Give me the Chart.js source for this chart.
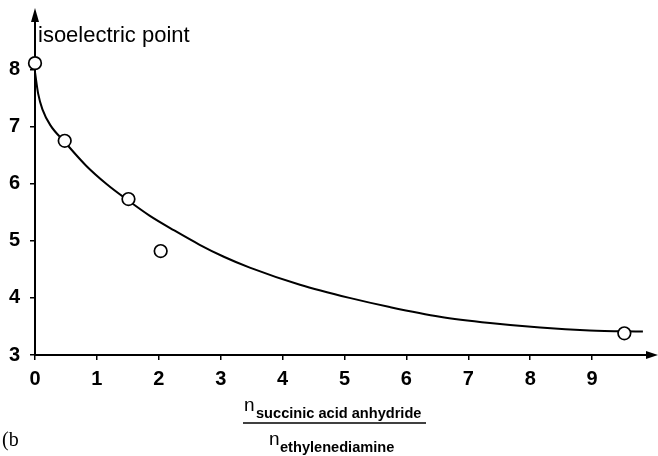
<!DOCTYPE html>
<html>
<head>
<meta charset="utf-8">
<script src="https://cdn.jsdelivr.net/npm/chart.js@4/dist/chart.umd.min.js"></script>
<style>
  html, body { margin: 0; padding: 0; background: #fff; }
  #wrap { width: 658px; height: 456px; position: relative; }
</style>
</head>
<body>
<div id="wrap"><canvas id="myChart"></canvas></div>
<script>
// measured points
const ratio = [0, 0.48, 1.51, 2.03, 9.52];
const pI = [8.11, 6.75, 5.73, 4.82, 3.38];

// fitted curve
const curveX = [0, 0.05, 0.12, 0.25, 0.48, 0.83, 1.16, 1.5, 1.85, 2.25, 2.66, 3.05, 3.47, 4.28, 5.08, 5.73, 6.54, 7.35, 8.16, 8.96, 9.82];
const curveY = [7.95, 7.58, 7.3, 7.02, 6.73, 6.31, 5.99, 5.71, 5.44, 5.18, 4.93, 4.72, 4.53, 4.23, 4.0, 3.84, 3.67, 3.56, 3.48, 3.43, 3.41];

const xTicks = [0, 1, 2, 3, 4, 5, 6, 7, 8, 9];
const yTicks = [3, 4, 5, 6, 7, 8];

const yTitle = 'isoelectric point';
const numerator = 'succinic acid anhydride';
const denominator = 'ethylenediamine';
const panel = '(b';

const tickFont = { family: 'Liberation Sans, Arial, sans-serif', size: 20, weight: 'bold' };

// axis arrows and the free text
const decorations = {
    id: 'decorations',
    afterDraw(chart) {
        const ctx = chart.ctx;
        const area = chart.chartArea;
        const left = area.left;
        const bottom = area.bottom;
        ctx.save();
        ctx.fillStyle = '#000';
        ctx.strokeStyle = '#000';

        // y arrow
        ctx.beginPath();
        ctx.moveTo(left, 8);
        ctx.lineTo(left - 4, area.top);
        ctx.lineTo(left + 4, area.top);
        ctx.closePath();
        ctx.fill();

        // x arrow
        ctx.beginPath();
        ctx.moveTo(658, bottom);
        ctx.lineTo(area.right, bottom - 4);
        ctx.lineTo(area.right, bottom + 4);
        ctx.closePath();
        ctx.fill();

        ctx.textBaseline = 'alphabetic';
        ctx.textAlign = 'left';
        ctx.font = '22px Liberation Sans, Arial, sans-serif';
        ctx.fillText(yTitle, 38, 42);

        // fraction under the x axis
        ctx.font = '19px Liberation Sans, Arial, sans-serif';
        ctx.fillText('n', 244, 411);
        ctx.font = 'bold 14.6px Liberation Sans, Arial, sans-serif';
        ctx.fillText(numerator, 256, 418);
        ctx.lineWidth = 1.5;
        ctx.beginPath();
        ctx.moveTo(243, 423);
        ctx.lineTo(426, 423);
        ctx.stroke();
        ctx.font = '19px Liberation Sans, Arial, sans-serif';
        ctx.fillText('n', 269, 445);
        ctx.font = 'bold 14.6px Liberation Sans, Arial, sans-serif';
        ctx.fillText(denominator, 280, 452);

        ctx.font = '20px Liberation Serif, Times New Roman, serif';
        ctx.fillText(panel, 2, 446);
        ctx.restore();
    }
};

const ctx = document.getElementById('myChart').getContext('2d');
const myChart = new Chart(ctx, {
    type: 'scatter',
    data: {
        datasets: [{
            data: ratio.map((x, i) => ({ x: x, y: pI[i] })),
            pointRadius: 6.3,
            pointBackgroundColor: '#fff',
            pointBorderColor: '#000',
            pointBorderWidth: 1.7,
            showLine: false,
            clip: false,
            order: 0
        }, {
            data: curveX.map((x, i) => ({ x: x, y: curveY[i] })),
            showLine: true,
            pointRadius: 0,
            borderColor: '#000',
            borderWidth: 2,
            cubicInterpolationMode: 'monotone',
            clip: false,
            order: 1
        }]
    },
    options: {
        responsive: true,
        maintainAspectRatio: false,
        animation: false,
        layout: { padding: { left: 0, right: 12, top: 22, bottom: 0 } },
        plugins: {
            legend: { display: false },
            tooltip: { enabled: false }
        },
        scales: {
            x: {
                type: 'linear',
                min: 0,
                max: 9.87,
                afterFit: (scale) => { scale.height = 101; },
                afterBuildTicks: (scale) => { scale.ticks = xTicks.map(v => ({ value: v })); },
                grid: { drawOnChartArea: false, tickLength: 5, color: '#000', lineWidth: 1.5 },
                border: { display: true, color: '#000', width: 2 },
                ticks: { color: '#000', font: tickFont, padding: 7, maxRotation: 0 }
            },
            y: {
                min: 3,
                max: 8.83,
                afterFit: (scale) => { scale.width = 35; },
                afterBuildTicks: (scale) => { scale.ticks = yTicks.map(v => ({ value: v })); },
                grid: { drawOnChartArea: false, tickLength: 5, color: '#000', lineWidth: 1.5 },
                border: { display: true, color: '#000', width: 2 },
                ticks: { color: '#000', font: tickFont, padding: 10 }
            }
        }
    },
    plugins: [decorations]
});
</script>
</body>
</html>
